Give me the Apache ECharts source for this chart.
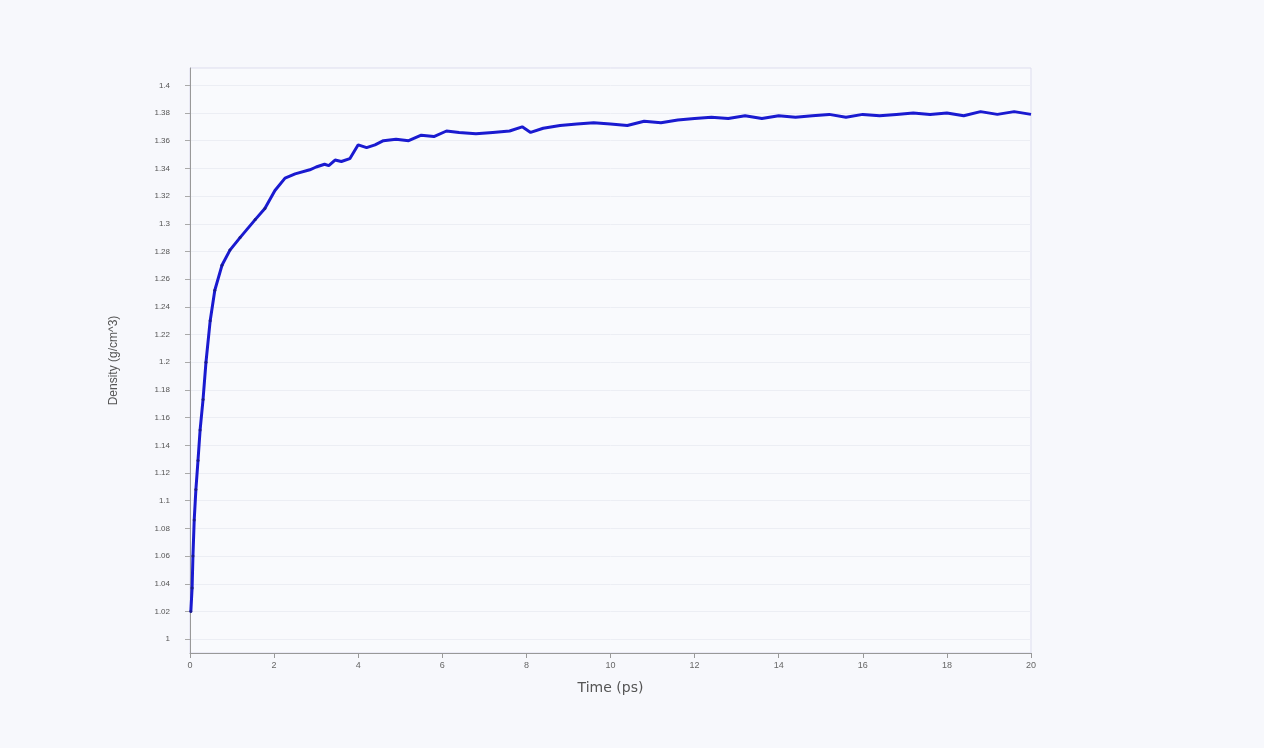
<!DOCTYPE html><html><head><meta charset="utf-8"><script src="https://cdn.jsdelivr.net/npm/echarts@6/dist/echarts.min.js"></script>
<style>html,body{margin:0;background:#f7f8fc}#c{width:1264px;height:748px}</style></head><body><div id="c"></div><script>
const times=[0.02,0.05,0.07,0.1,0.14,0.19,0.24,0.31,0.38,0.48,0.59,0.76,0.95,1.19,1.55,1.78,2.02,2.26,2.5,2.85,3.0,3.2,3.3,3.45,3.6,3.8,3.9,4.0,4.2,4.4,4.6,4.9,5.2,5.5,5.8,6.1,6.4,6.8,7.2,7.6,7.9,8.1,8.4,8.8,9.2,9.6,10.0,10.4,10.8,11.2,11.6,12.0,12.4,12.8,13.2,13.6,14.0,14.4,14.8,15.2,15.6,16.0,16.4,16.8,17.2,17.6,18.0,18.4,18.8,19.2,19.6,20.0];
const density=[1.02,1.037,1.06,1.086,1.108,1.129,1.151,1.173,1.2,1.23,1.252,1.27,1.281,1.29,1.303,1.311,1.324,1.333,1.336,1.339,1.341,1.343,1.342,1.346,1.345,1.347,1.352,1.357,1.355,1.357,1.36,1.361,1.36,1.364,1.363,1.367,1.366,1.365,1.366,1.367,1.37,1.366,1.369,1.371,1.372,1.373,1.372,1.371,1.374,1.373,1.375,1.376,1.377,1.376,1.378,1.376,1.378,1.377,1.378,1.379,1.377,1.379,1.378,1.379,1.38,1.379,1.38,1.378,1.381,1.379,1.381,1.379];
const yTicks=[1,1.02,1.04,1.06,1.08,1.1,1.12,1.14,1.16,1.18,1.2,1.22,1.24,1.26,1.28,1.3,1.32,1.34,1.36,1.38,1.4];
const xTicks=[0,2,4,6,8,10,12,14,16,18,20];
const c=echarts.init(document.getElementById('c'));
c.setOption({backgroundColor:'#f7f8fc',animation:false,
grid:{left:190,right:233,top:68,bottom:95,show:true,borderColor:'#dde',borderWidth:1,backgroundColor:'#f9fafd'},
xAxis:{type:'value',min:0,max:20,name:'Time (ps)',nameLocation:'middle',nameGap:28,nameTextStyle:{color:'#555',fontSize:14,fontFamily:'DejaVu Sans'},
 axisLine:{lineStyle:{color:'#999'}},axisTick:{customValues:xTicks,lineStyle:{color:'#999'}},axisLabel:{customValues:xTicks,color:'#666',fontSize:9},splitLine:{show:false}},
yAxis:{type:'value',min:0.99,max:1.4125,name:'Density (g/cm^3)',nameLocation:'middle',nameGap:70,nameRotate:90,nameTextStyle:{color:'#555',fontSize:12},
 axisLine:{show:true,lineStyle:{color:'#999'}},axisTick:{customValues:yTicks,lineStyle:{color:'#aaa'}},axisLabel:{customValues:yTicks,color:'#555',fontSize:8,formatter:v=>String(+v.toFixed(2)),margin:20},splitLine:{show:false}},
series:[{type:'line',data:times.map((t,i)=>[t,density[i]]),showSymbol:true,symbol:'circle',symbolSize:d=>d[0]<2?3:0,
 lineStyle:{color:'#1a1ad0',width:3},itemStyle:{color:'#1a1a90'},
 markLine:{silent:true,symbol:'none',label:{show:false},lineStyle:{color:'#eceef4',type:'solid',width:1},data:yTicks.map(v=>({yAxis:v})),z:0}}]});
</script></body></html>
